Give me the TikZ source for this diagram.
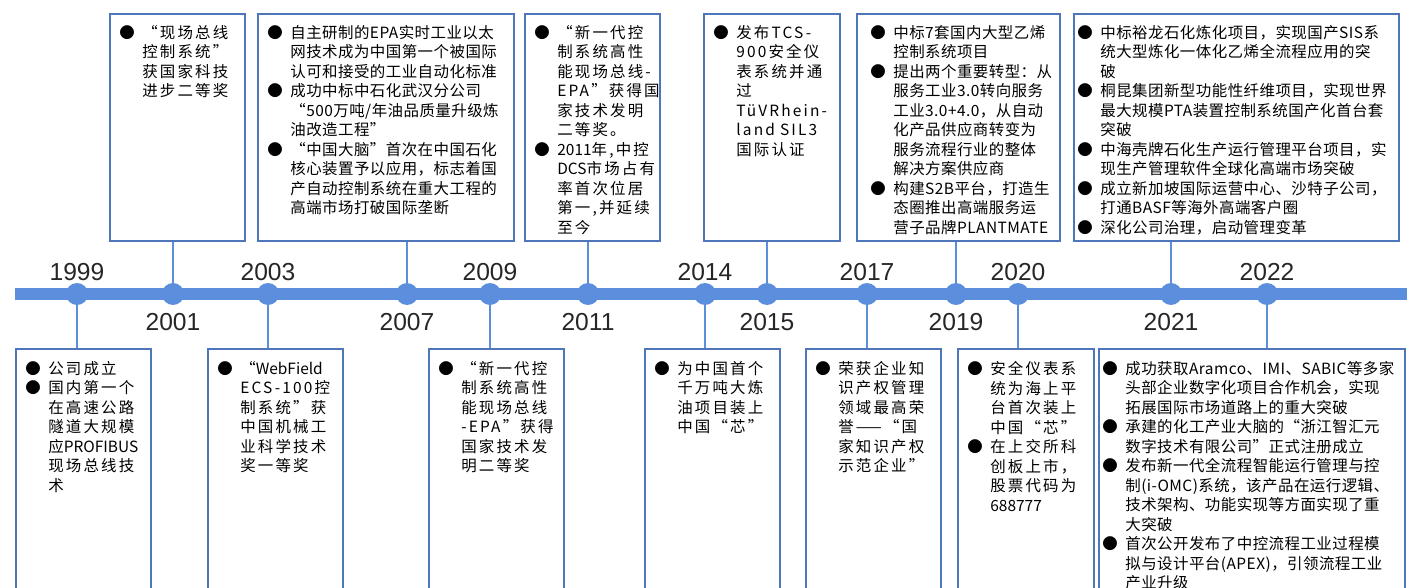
\documentclass[tikz,border=0pt]{standalone}
\usepackage{fontspec}
\setmainfont{Liberation Sans}
\newfontfamily\cjk[LetterSpace=3]{Noto Sans CJK SC}
\newfontfamily\cjkw[LetterSpace=14]{Noto Sans CJK SC}
\newfontfamily\cjkn{Noto Sans CJK SC}
\usepackage{xcolor}
\usepackage{tikz}
\usetikzlibrary{positioning}
\definecolor{barblue}{RGB}{91,142,221}
\definecolor{boxblue}{RGB}{79,118,186}
\hyphenpenalty=10000
\tikzstyle{bar} = [line width=0.24cm, barblue]
\tikzstyle{dot} = [circle, fill=barblue, minimum size=0.44cm, inner sep=0pt]
\tikzstyle{year} = [font=\fontsize{14pt}{14pt}\selectfont, text=black!85]
\tikzstyle{link} = [barblue, line width=0.8pt]
\tikzstyle{card} = [draw=boxblue, line width=1.1pt, inner sep=0pt, anchor=north west]
\tikzstyle{cardtext} = [anchor=north west, inner sep=0pt, align=left, font=\fontsize{8.8pt}{11.1pt}\selectfont\cjk]
\tikzstyle{narrowtext} = [cardtext, text width=2.7cm, font=\fontsize{8.8pt}{11.1pt}\selectfont\cjkw]
\newcommand{\itm}{\makebox[0.46cm][l]{●}}
\newcommand{\nl}{\\\hspace*{0.46cm}}
\newcommand{\lat}[1]{{\cjkn #1}}

\begin{document}
\begin{tikzpicture}[x=0.02cm, y=-0.02cm, node distance=0.44cm]
		\useasboundingbox (0,0) rectangle (1407,588);
		\clip (0,0) rectangle (1407,588);
		
		\coordinate (start) at (15,294);
		\coordinate (end) at (1420,294);
		\draw [bar] (start) -- (end);
		
		\node (1999dot) [dot] at (77,294) {};
		\node (2001dot) [dot] at (173,294) {};
		\node (2003dot) [dot] at (268,294) {};
		\node (2007dot) [dot] at (407,294) {};
		\node (2009dot) [dot] at (490,294) {};
		\node (2011dot) [dot] at (588,294) {};
		\node (2014dot) [dot] at (705,294) {};
		\node (2015dot) [dot] at (767,294) {};
		\node (2017dot) [dot] at (867,294) {};
		\node (2019dot) [dot] at (956,294) {};
		\node (2020dot) [dot] at (1018,294) {};
		\node (2021dot) [dot] at (1171,294) {};
		\node (2022dot) [dot] at (1267,294) {};
		
		\node (1999year) [year, above of=1999dot] {1999};
		\node (2003year) [year, above of=2003dot] {2003};
		\node (2009year) [year, above of=2009dot] {2009};
		\node (2014year) [year, above of=2014dot] {2014};
		\node (2017year) [year, above of=2017dot] {2017};
		\node (2020year) [year, above of=2020dot] {2020};
		\node (2022year) [year, above of=2022dot] {2022};
		\node (2001year) [year, below of=2001dot, yshift=-0.12cm] {2001};
		\node (2007year) [year, below of=2007dot, yshift=-0.12cm] {2007};
		\node (2011year) [year, below of=2011dot, yshift=-0.12cm] {2011};
		\node (2015year) [year, below of=2015dot, yshift=-0.12cm] {2015};
		\node (2019year) [year, below of=2019dot, yshift=-0.12cm] {2019};
		\node (2021year) [year, below of=2021dot, yshift=-0.12cm] {2021};
		
		\node (2001box) [card, minimum width=2.7cm, minimum height=4.54cm] at (109,13) {};
		\node (2001txt) [narrowtext, xshift=0.2cm, yshift=-0.24cm] at (2001box.north west) {%
			\itm “现场总线\nl 控制系统”\nl 获国家科技\nl 进步二等奖};
		\node (2007box) [card, minimum width=5.12cm, minimum height=4.54cm] at (257,13) {};
		\node (2007txt) [cardtext, text width=4.9cm, xshift=0.2cm, yshift=-0.24cm] at (2007box.north west) {%
			\itm 自主研制的EPA实时工业以太\nl 网技术成为中国第一个被国际\nl 认可和接受的工业自动化标准\\
			\itm 成功中标中石化武汉分公司\nl “500万吨/年油品质量升级炼\nl 油改造工程”\\
			\itm “中国大脑”首次在中国石化\nl 核心装置予以应用，标志着国\nl 产自动控制系统在重大工程的\nl 高端市场打破国际垄断};
		\node (2011box) [card, minimum width=2.7cm, minimum height=4.54cm] at (524,13) {};
		\node (2011txt) [narrowtext, xshift=0.2cm, yshift=-0.24cm] at (2011box.north west) {%
			\itm “新一代控\nl 制系统高性\nl 能现场总线-\nl EPA”获得国\nl 家技术发明\nl 二等奖。\\
			\itm \lat{2011}年,中控\nl \lat{DCS}市场占有\nl 率首次位居\nl 第一,并延续\nl 至今};
		\node (2015box) [card, minimum width=2.72cm, minimum height=4.54cm] at (703,13) {};
		\node (2015txt) [narrowtext, xshift=0.2cm, yshift=-0.24cm] at (2015box.north west) {%
			\itm 发布TCS-\nl 900安全仪\nl 表系统并通\nl 过\nl TüVRhein-\nl land SIL3\nl 国际认证};
		\node (2019box) [card, minimum width=4.06cm, minimum height=4.54cm] at (856,13) {};
		\node (2019txt) [cardtext, text width=3.8cm, xshift=0.28cm, yshift=-0.24cm] at (2019box.north west) {%
			\itm 中标7套国内大型乙烯\nl 控制系统项目\\
			\itm 提出两个重要转型：从\nl 服务工业3.0转向服务\nl 工业3.0+4.0，从自动\nl 化产品供应商转变为\nl 服务流程行业的整体\nl 解决方案供应商\\
			\itm 构建S2B平台，打造生\nl 态圈推出高端服务运\nl 营子品牌PLANTMATE};
		\node (2021box) [card, minimum width=6.5cm, minimum height=4.54cm] at (1073,13) {};
		\node (2021txt) [cardtext, text width=6.4cm, xshift=0.08cm, yshift=-0.24cm] at (2021box.north west) {%
			\itm 中标裕龙石化炼化项目，实现国产SIS系\nl 统大型炼化一体化乙烯全流程应用的突\nl 破\\
			\itm 桐昆集团新型功能性纤维项目，实现世界\nl 最大规模PTA装置控制系统国产化首台套\nl 突破\\
			\itm 中海壳牌石化生产运行管理平台项目，实\nl 现生产管理软件全球化高端市场突破\\
			\itm 成立新加坡国际运营中心、沙特子公司，\nl 打通BASF等海外高端客户圈\\
			\itm 深化公司治理，启动管理变革};
		
		\node (1999box) [card, minimum width=2.7cm, minimum height=5.4cm] at (15,348) {};
		\node (1999txt) [narrowtext, xshift=0.2cm, yshift=-0.26cm] at (1999box.north west) {%
			\itm 公司成立\\
			\itm 国内第一个\nl 在高速公路\nl 隧道大规模\nl 应\lat{PROFIBUS}\nl 现场总线技\nl 术};
		\node (2003box) [card, minimum width=2.7cm, minimum height=5.4cm] at (207,348) {};
		\node (2003txt) [narrowtext, xshift=0.2cm, yshift=-0.26cm] at (2003box.north west) {%
			\itm “\lat{WebField}\nl ECS-100控\nl 制系统”获\nl 中国机械工\nl 业科学技术\nl 奖一等奖};
		\node (2009box) [card, minimum width=2.7cm, minimum height=5.4cm] at (428,348) {};
		\node (2009txt) [narrowtext, xshift=0.2cm, yshift=-0.26cm] at (2009box.north west) {%
			\itm “新一代控\nl 制系统高性\nl 能现场总线\nl -EPA”获得\nl 国家技术发\nl 明二等奖};
		\node (2014box) [card, minimum width=2.7cm, minimum height=5.4cm] at (644,348) {};
		\node (2014txt) [narrowtext, xshift=0.2cm, yshift=-0.26cm] at (2014box.north west) {%
			\itm 为中国首个\nl 千万吨大炼\nl 油项目装上\nl 中国“芯”};
		\node (2017box) [card, minimum width=2.7cm, minimum height=5.4cm] at (805,348) {};
		\node (2017txt) [narrowtext, xshift=0.2cm, yshift=-0.26cm] at (2017box.north west) {%
			\itm 荣获企业知\nl 识产权管理\nl 领域最高荣\nl 誉——“国\nl 家知识产权\nl 示范企业”};
		\node (2020box) [card, minimum width=2.72cm, minimum height=5.4cm] at (957,348) {};
		\node (2020txt) [narrowtext, xshift=0.2cm, yshift=-0.26cm] at (2020box.north west) {%
			\itm 安全仪表系\nl 统为海上平\nl 台首次装上\nl 中国“芯”\\
			\itm 在上交所科\nl 创板上市，\nl 股票代码为\nl \lat{688777}};
		\node (2022box) [card, minimum width=6.12cm, minimum height=5.4cm] at (1098,348) {};
		\node (2022txt) [cardtext, text width=6cm, xshift=0.08cm, yshift=-0.26cm] at (2022box.north west) {%
			\itm 成功获取Aramco、IMI、SABIC等多家\nl 头部企业数字化项目合作机会，实现\nl 拓展国际市场道路上的重大突破\\
			\itm 承建的化工产业大脑的“浙江智汇元\nl 数字技术有限公司”正式注册成立\\
			\itm 发布新一代全流程智能运行管理与控\nl 制(i-OMC)系统，该产品在运行逻辑、\nl 技术架构、功能实现等方面实现了重\nl 大突破\\
			\itm 首次公开发布了中控流程工业过程模\nl 拟与设计平台(APEX)，引领流程工业\nl 产业升级};
		
		\draw [link] (2001dot) -- (2001dot |- 2001box.south);
		\draw [link] (2007dot) -- (2007dot |- 2007box.south);
		\draw [link] (2011dot) -- (2011dot |- 2011box.south);
		\draw [link] (2015dot) -- (2015dot |- 2015box.south);
		\draw [link] (2019dot) -- (2019dot |- 2019box.south);
		\draw [link] (2021dot) -- (2021dot |- 2021box.south);
		\draw [link] (1999dot) -- (1999dot |- 1999box.north);
		\draw [link] (2003dot) -- (2003dot |- 2003box.north);
		\draw [link] (2009dot) -- (2009dot |- 2009box.north);
		\draw [link] (2014dot) -- (2014dot |- 2014box.north);
		\draw [link] (2017dot) -- (2017dot |- 2017box.north);
		\draw [link] (2020dot) -- (2020dot |- 2020box.north);
		\draw [link] (2022dot) -- (2022dot |- 2022box.north);
	\end{tikzpicture}
\end{document}
